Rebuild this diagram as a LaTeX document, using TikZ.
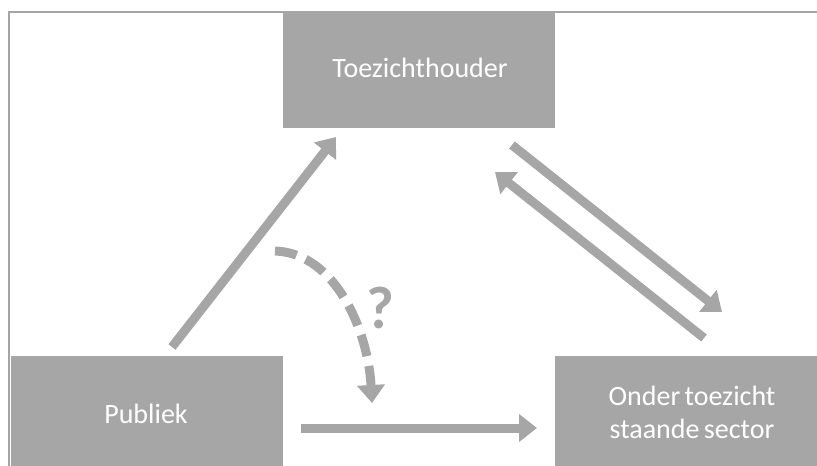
\documentclass[tikz,border=0pt]{standalone}
\usepackage{fontspec}
\setmainfont{Carlito}
\usetikzlibrary{arrows.meta}
\definecolor{boxgray}{HTML}{A6A6A6}
\definecolor{framegray}{HTML}{A5A5A5}
\tikzset{
  actor/.style={fill=boxgray, draw=none, inner sep=0pt, anchor=north west},
  label/.style={text=white, font=\fontsize{28}{33}\selectfont, align=center, inner sep=0pt},
  flow/.style={draw=boxgray, line width=9pt,
    -{Triangle[width=27pt,length=18pt]}},
  unsure/.style={flow, dash pattern=on 22pt off 10pt}
}
\begin{document}
\begin{tikzpicture}[x=1pt, y=-1pt]
  \useasboundingbox (0,0) rectangle (817,466);
  \clip (0,0) rectangle (817,466);
  % outer frame
  \draw[framegray, line width=2pt] (9,12) rectangle (840,490);
  % the three parties
  \node[actor, minimum width=272pt, minimum height=117pt] (toezicht) at (283,11) {};
  \node[actor, minimum width=272pt, minimum height=120pt] (publiek) at (11,356) {};
  \node[actor, minimum width=280pt, minimum height=120pt] (sector) at (555,356) {};
  \node[label, anchor=base] (t1) at (420,77) {Toezichthouder};
  \node[label, anchor=base] (t2) at (146,423) {Publiek};
  \node[label, anchor=base] (t3) at (692,438) {Onder\hspace{-2pt} toezicht\\staande\hspace{-2pt} sector};
  % arrow end points
  \coordinate (pStart) at (172,347);
  \coordinate (pEnd) at (336,137);
  \coordinate (dStart) at (512,145);
  \coordinate (dEnd) at (722,312);
  \coordinate (uStart) at (704,338);
  \coordinate (uEnd) at (495,172);
  \coordinate (hStart) at (301,428);
  \coordinate (hEnd) at (537,428);
  \coordinate (qStart) at (275,251);
  \coordinate (qEnd) at (372,403);
  % connectors
  \draw[flow] (pStart) -- (pEnd);
  \draw[flow] (dStart) -- (dEnd);
  \draw[flow] (uStart) -- (uEnd);
  \draw[flow] (hStart) -- (hEnd);
  \draw[unsure] (qStart) .. controls (335,253) and (368,330) .. (qEnd);
  \node[text=boxgray, font=\bfseries\fontsize{60}{60}\selectfont, inner sep=0pt] (q) at (380,308) {?};
\end{tikzpicture}
\end{document}
